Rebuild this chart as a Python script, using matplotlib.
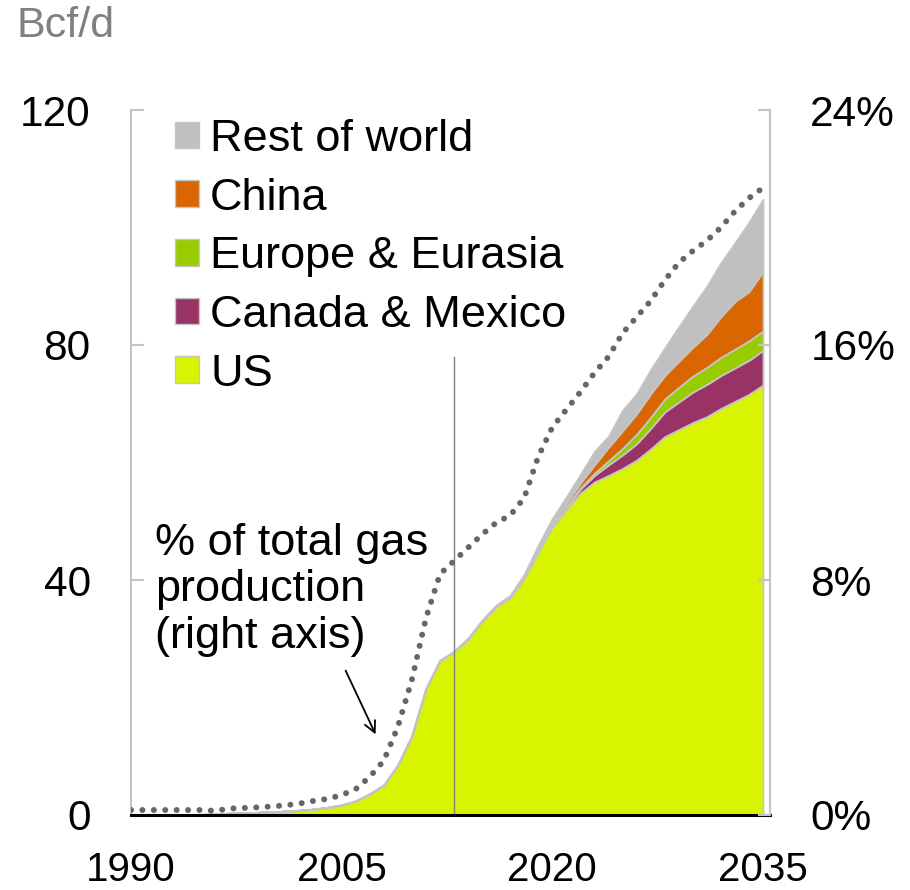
import matplotlib
matplotlib.use("Agg")
import matplotlib.pyplot as plt
from matplotlib.patches import Patch
from matplotlib.ticker import FuncFormatter

plt.rcParams['font.family'] = ['Liberation Sans', 'DejaVu Sans']

years = list(range(1990, 2036))

us = [0.1, 0.1, 0.1, 0.1, 0.1, 0.1, 0.15, 0.3, 0.35, 0.45,
      0.55, 0.65, 0.8, 1.0, 1.3, 1.7, 2.4, 3.6, 5.1, 8.5,
      13.5, 21.5, 26.3, 27.8, 30.0, 33.0, 35.5, 37.0, 40.3, 44.8,
      49.0, 52.0, 54.8, 56.7, 57.8, 59.0, 60.4, 62.3, 64.4, 65.6,
      66.8, 67.8, 69.2, 70.4, 71.6, 73.2]
canada_mexico = [0] * 28 + [0.1, 0.15, 0.2, 0.4, 0.7, 1.1, 1.8, 2.3, 2.8, 3.5,
                            4.2, 4.7, 5.2, 5.5, 5.6, 5.7, 5.8, 5.9]
europe_eurasia = [0] * 29 + [0.05, 0.1, 0.15, 0.2, 0.4, 0.7, 1.1, 1.6, 1.9,
                             2.2, 2.5, 2.7, 2.9, 3.1, 3.2, 3.3, 3.3]
china = [0] * 27 + [0.1, 0.2, 0.35, 0.5, 0.6, 0.8, 1.4, 2.3, 3.0, 3.5, 4.0,
                    4.0, 4.4, 4.9, 5.6, 6.9, 8.1, 8.4, 10.1]
rest_of_world = [0] * 23 + [0.1, 0.15, 0.2, 0.25, 0.3, 0.4, 0.6, 0.7, 1.0,
                            1.5, 2.3, 1.9, 3.5, 3.4, 4.1, 4.7, 5.9, 7.0, 8.2,
                            9.2, 10.0, 11.8, 12.3]
share_pct = [0.17, 0.17, 0.17, 0.17, 0.17, 0.17, 0.14, 0.22, 0.24, 0.26,
             0.29, 0.33, 0.39, 0.48, 0.55, 0.68, 0.88, 1.3, 1.85, 3.0,
             4.6, 6.7, 8.2, 8.65, 9.1, 9.55, 9.95, 10.2, 10.8, 12.2,
             13.2, 13.8, 14.4, 15.05, 15.6, 16.4, 16.95, 17.5, 18.2, 18.8,
             19.2, 19.55, 20.0, 20.55, 21.0, 21.35]

labels = ['US', 'Canada & Mexico', 'Europe & Eurasia', 'China', 'Rest of world']
colors = ['#d9f400', '#993366', '#99cc00', '#d96600', '#c0c0c0']
edge = '#c4c4c4'

fig = plt.figure(figsize=(9.1, 8.9), dpi=100)
ax = fig.add_axes([131 / 910, 75 / 890, 639 / 910, 705 / 890])

ax.stackplot(years, us, canada_mexico, europe_eurasia, china, rest_of_world,
             colors=colors, edgecolor=edge, linewidth=1.3)
ax.plot([2013, 2013], [0, 78], color='#808080', lw=1)

ax.set_xlim(1990, 2035.5)
ax.set_ylim(0, 120)
ax.set_xticks([1990, 2005, 2020, 2035])
ax.set_yticks([0, 40, 80, 120])
ax.tick_params(axis='x', length=0, labelsize=29, pad=26)
ax.tick_params(axis='y', direction='in', length=9, width=1.5, color='#c4c4c4',
               labelsize=30.5, pad=29)
ax.spines['top'].set_visible(False)
ax.spines['left'].set_color('#c4c4c4')
ax.spines['left'].set_linewidth(1.5)
ax.spines['right'].set_color('#c4c4c4')
ax.spines['right'].set_linewidth(1.5)
ax.spines['bottom'].set_color('black')
ax.spines['bottom'].set_linewidth(2.2)

ax2 = ax.twinx()
ax2.plot(years, share_pct, color='#666666', lw=4.3,
         linestyle=(0, (0.01, 1.9)), dash_capstyle='round')
ax2.set_ylim(0, 24)
ax2.set_yticks([0, 8, 16, 24])
ax2.yaxis.set_major_formatter(FuncFormatter(lambda v, p: '%d%%' % v))
ax2.tick_params(axis='y', direction='in', length=9, width=1.5, color='#c4c4c4',
                labelsize=30.5, pad=29)
for s in ['top', 'left', 'bottom']:
    ax2.spines[s].set_visible(False)
ax2.spines['right'].set_color('#c4c4c4')
ax2.spines['right'].set_linewidth(1.5)

handles = [Patch(facecolor=c, edgecolor=edge, linewidth=1) for c in colors]
leg = ax.legend(handles[::-1], labels[::-1], loc='upper left',
                bbox_to_anchor=(44 / 639, 0.987), frameon=False, fontsize=32.5,
                handlelength=0.53, handleheight=0.53, handletextpad=0.25,
                labelspacing=0.39, borderaxespad=0, borderpad=0)
leg.set_zorder(5)

ax.text(1991.7, 38.3, '% of total gas\nproduction\n(right axis)', fontsize=32.5,
        ha='left', va='center', linespacing=1.18)
ax.annotate('', xy=(2007.5, 13.3), xytext=(2005.2, 25.0),
            arrowprops=dict(arrowstyle='->,head_length=0.8,head_width=0.4',
                            color='black', lw=1.3))

fig.text(17 / 910, 1 - 26 / 890, 'Bcf/d', fontsize=31, color='#808080',
         ha='left', va='center')

fig.savefig('out.png', dpi=100)
